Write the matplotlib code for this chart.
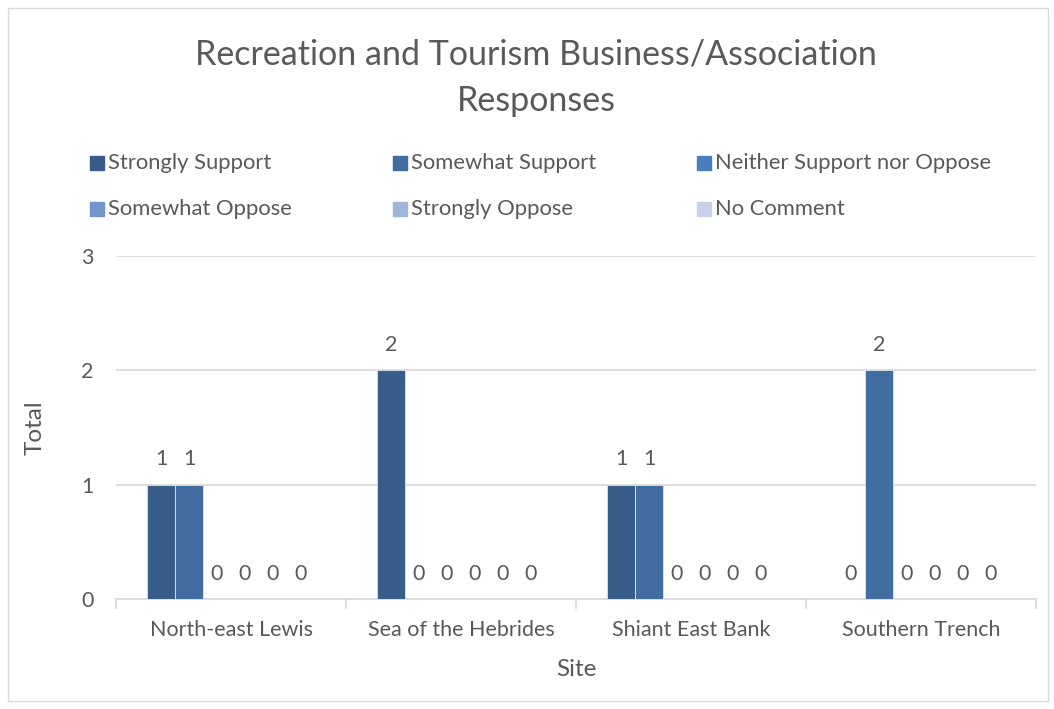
import matplotlib
matplotlib.use("Agg")
import matplotlib.pyplot as plt
from matplotlib.patches import Rectangle
import numpy as np

plt.rcParams['font.family'] = ['Lato', 'DejaVu Sans']

# Daten
sites = ["North-east Lewis", "Sea of the Hebrides", "Shiant East Bank", "Southern Trench"]
series = ["Strongly Support", "Somewhat Support", "Neither Support nor Oppose",
          "Somewhat Oppose", "Strongly Oppose", "No Comment"]
strongly_support = [1, 2, 1, 0]
somewhat_support = [1, 0, 1, 2]
neither = [0, 0, 0, 0]
somewhat_oppose = [0, 0, 0, 0]
strongly_oppose = [0, 0, 0, 0]
no_comment = [0, 0, 0, 0]
values = [strongly_support, somewhat_support, neither,
          somewhat_oppose, strongly_oppose, no_comment]
colors = ["#385D8A", "#416DA0", "#4A7EBB", "#7495CB", "#A1B5DA", "#C7D1E7"]

text_col = "#595959"
grid_col = "#D9D9D9"

fig = plt.figure(figsize=(10.54, 7.09), dpi=100)
ax = fig.add_axes([116/1054, 1 - 599/709, 920/1054, 343/709])

x = np.arange(len(sites))
w = 28 / 230
for i, vals in enumerate(values):
    pos = x + (i - 2.5) * w
    ax.bar(pos, vals, width=w, color=colors[i], edgecolor="#DCE3EF",
           linewidth=0.6, zorder=3)
    for xp, v in zip(pos, vals):
        ax.annotate(str(v), (xp, v), xytext=(0, 11), textcoords="offset points",
                    ha="center", va="bottom", fontsize=15.5, color=text_col)

ax.set_xlim(-0.5, 3.5)
ax.set_ylim(0, 3)
ax.set_yticks([0, 1, 2, 3])
ax.yaxis.grid(True, color=grid_col, linewidth=1.2, zorder=0)
ax.set_axisbelow(True)
for s in ["left", "right", "top"]:
    ax.spines[s].set_visible(False)
ax.spines["bottom"].set_color(grid_col)
ax.spines["bottom"].set_linewidth(1.2)
ax.tick_params(axis="y", length=0, pad=16, labelsize=15.5, labelcolor=text_col)
ax.set_xticks(x)
ax.set_xticklabels(sites)
ax.tick_params(axis="x", length=0, pad=15, labelsize=15.5, labelcolor=text_col)
# Trennstriche zwischen den Kategorien
ax.set_xticks(np.arange(-0.5, 4.0, 1.0), minor=True)
ax.tick_params(axis="x", which="minor", length=7, width=1.2, color=grid_col)

ax.set_xlabel("Site", fontsize=17.5, color=text_col, labelpad=14)
ax.set_ylabel("Total", fontsize=17.5, color=text_col, labelpad=26)

fig.text(536/1054, 1 - 78/709, "Recreation and Tourism Business/Association\nResponses",
         ha="center", va="center", fontsize=24.5, color=text_col, linespacing=1.55)

# Legende von Hand
col_x = [90, 393, 697]
row_y = [163, 209]
for i, name in enumerate(series):
    cx = col_x[i % 3]
    cy = row_y[i // 3]
    fig.add_artist(Rectangle((cx/1054, 1 - (cy + 7)/709), 14/1054, 14/709,
                             transform=fig.transFigure, color=colors[i]))
    fig.text((cx + 18)/1054, 1 - cy/709, name, ha="left", va="center",
             fontsize=15.8, color=text_col)

fig.add_artist(Rectangle((8/1054, 8/709), 1040/1054, 693/709, transform=fig.transFigure,
                         fill=False, edgecolor=grid_col, linewidth=1))

fig.savefig("out.png", dpi=100)
